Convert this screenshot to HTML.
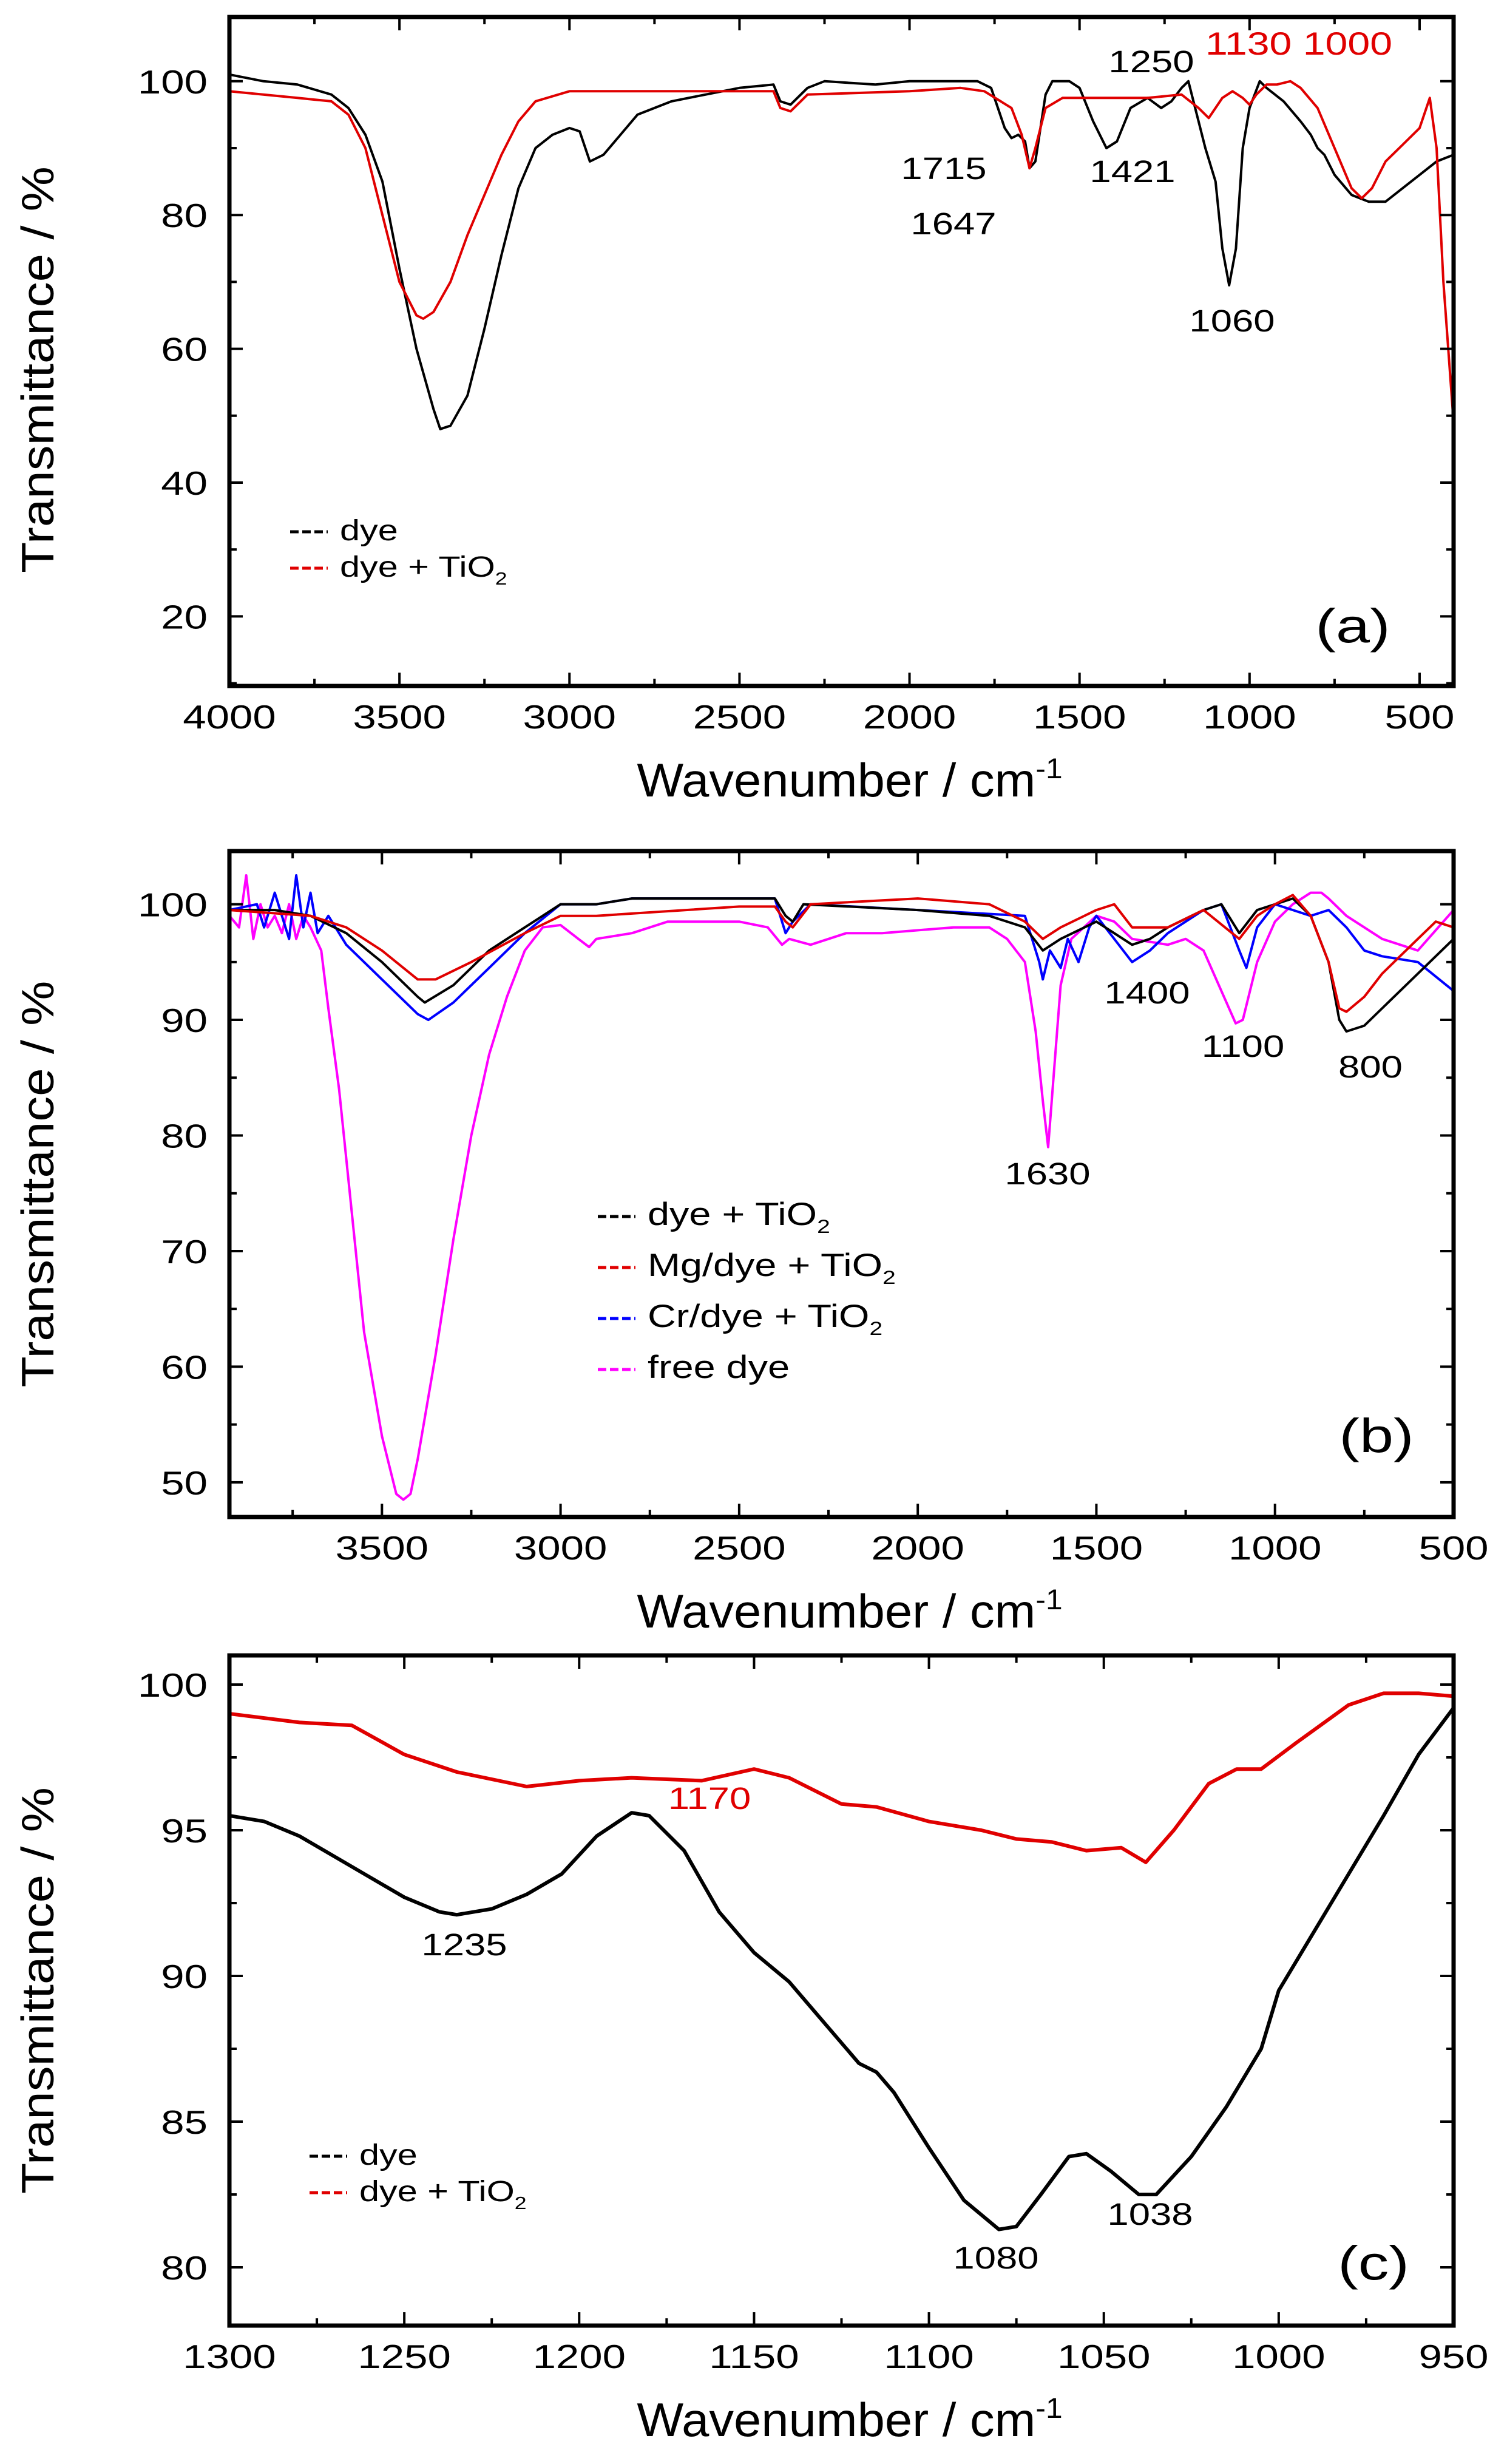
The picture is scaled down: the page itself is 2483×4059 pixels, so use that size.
<!DOCTYPE html>
<html><head><meta charset="utf-8">
<style>
html,body{margin:0;padding:0;background:#fff;}
svg{display:block;font-family:"Liberation Sans",Arial,sans-serif;}
</style></head>
<body>
<svg id="fig" width="2483" height="4059" viewBox="0 0 2483 4059" xmlns="http://www.w3.org/2000/svg"></svg>
<script>
// ---------- Panel (a) data ----------
const aDyeX = [4000,3900,3800,3700,3650,3600,3550,3500,3450,3400,3380,3350,3300,3250,3200,3150,3100,3050,3000,2970,2940,2900,2850,2800,2700,2600,2500,2400,2380,2350,2300,2250,2100,2000,1800,1760,1720,1700,1680,1660,1647,1630,1600,1580,1530,1500,1460,1421,1390,1350,1300,1260,1230,1200,1180,1160,1130,1100,1080,1060,1040,1020,1000,970,950,900,850,820,800,780,750,700,650,600,550,500,450,400];
const aDyeY = [101,100,99.5,98,96,92,85,72,60,51,48,48.5,53,63,74,84,90,92,93,92.5,88,89,92,95,97,98,99,99.5,97,96.5,99,100,99.5,100,100,99,93,91.5,92,91,87,88,98,100,100,99,94,90,91,96,97.5,96,97,99,100,96,90,85,75,69.5,75,90,96,100,99,97,94,92,90,89,86,83,82,82,84,86,88,89];
const aTiX = [4000,3800,3700,3650,3600,3550,3500,3450,3430,3400,3350,3300,3250,3200,3150,3100,3000,2800,2500,2400,2380,2350,2320,2300,2000,1850,1780,1700,1670,1647,1630,1600,1550,1400,1300,1200,1150,1120,1080,1050,1020,1000,980,950,920,880,850,800,750,700,670,640,600,550,500,470,450,430,400];
const aTiY = [98.5,97.5,97,95,90,80,70,65,64.5,65.5,70,77,83,89,94,97,98.5,98.5,98.5,98.5,96,95.5,97,98,98.5,99,98.5,96,92,87,90,96,97.5,97.5,97.5,98,96,94.5,97.5,98.5,97.5,96.5,98,99.5,99.5,100,99,96,90,84,82.5,84,88,90.5,93,97.5,90,70,49];
const aXTicks = [4000,3500,3000,2500,2000,1500,1000,500];
const aYTicks = [20,40,60,80,100];

// ---------- Panel (b) data ----------
const bTiX = [3927,3800,3700,3600,3500,3400,3380,3300,3200,3100,3000,2900,2800,2400,2370,2350,2320,2000,1800,1700,1650,1600,1500,1400,1350,1300,1200,1150,1100,1050,1000,950,900,850,820,800,750,700,600,500];
const bTiY = [99.5,99.5,99,97.5,95,92,91.5,93,96,98,100,100,100.5,100.5,99,98.5,100,99.5,99,98,96,97,98.5,96.5,97,98,99.5,100,97.5,99.5,100,100.5,99,95,90,89,89.5,91,94,97];
const bMgX = [3927,3700,3600,3500,3400,3350,3250,3100,3000,2900,2500,2400,2370,2350,2300,2000,1800,1700,1650,1600,1500,1450,1400,1300,1200,1100,1050,1000,950,900,850,820,800,750,700,600,550,500];
const bMgY = [99.5,99,98,96,93.5,93.5,95,97.5,99,99,99.8,99.8,98.5,98,100,100.5,100,98.5,97,98,99.5,100,98,98,99.5,97,99,100,100.8,99,95,91,90.7,92,94,97,98.5,98];
const bCrX = [3927,3850,3830,3800,3760,3740,3720,3700,3680,3650,3600,3500,3400,3370,3300,3200,3100,3000,2900,2800,2400,2370,2350,2300,2000,1700,1660,1650,1630,1600,1580,1550,1520,1500,1450,1400,1350,1300,1200,1150,1100,1080,1050,1000,950,900,850,800,750,700,600,500];
const bCrY = [99.5,100,98,101,97,102.5,98,101,97.5,99,96.5,93.5,90.5,90,91.5,94.5,97.5,100,100,100.5,100.5,97.5,98.5,100,99.5,99,95,93.5,96,94.5,97,95,98,99,97,95,96,97.5,99.5,100,96,94.5,98,100,99.5,99,99.5,98,96,95.5,95,92.5];
const bFreeX = [3927,3900,3880,3860,3840,3820,3800,3780,3760,3740,3720,3700,3670,3650,3620,3600,3550,3500,3460,3440,3420,3400,3350,3300,3250,3200,3150,3100,3050,3000,2950,2920,2900,2800,2700,2500,2420,2380,2360,2300,2200,2100,1900,1800,1750,1700,1670,1650,1635,1620,1600,1570,1500,1450,1400,1300,1250,1200,1150,1110,1090,1050,1000,950,900,870,850,800,700,600,500];
const bFreeY = [99,98,102.5,97,100,98,99,97.5,100,97,99,98,96,91,84,78,63,54,49,48.5,49,52,61,71,80,87,92,96,98,98.2,97,96.3,97,97.5,98.5,98.5,98,96.5,97,96.5,97.5,97.5,98,98,97,95,89,83,79,85,93,97,99,98.5,97,96.5,97,96,92.5,89.7,90,95,98.5,100,101,101,100.5,99,97,96,99.5];
const bXTicks = [3500,3000,2500,2000,1500,1000,500];
const bYTicks = [50,60,70,80,90,100];

// ---------- Panel (c) data ----------
const cDyeX = [1300,1290,1280,1270,1260,1250,1240,1235,1225,1215,1205,1195,1185,1180,1170,1160,1150,1140,1130,1120,1115,1110,1100,1090,1080,1075,1068,1060,1055,1048,1040,1035,1025,1015,1005,1000,990,980,970,960,950];
const cDyeY = [95.5,95.3,94.8,94.1,93.4,92.7,92.2,92.1,92.3,92.8,93.5,94.8,95.6,95.5,94.3,92.2,90.8,89.8,88.4,87.0,86.7,86.0,84.1,82.3,81.3,81.4,82.5,83.8,83.9,83.3,82.5,82.5,83.8,85.5,87.5,89.5,91.5,93.5,95.5,97.6,99.2];
const cTiX = [1300,1280,1265,1250,1235,1215,1200,1185,1165,1150,1140,1125,1115,1100,1085,1075,1065,1055,1045,1038,1030,1020,1012,1005,995,980,970,960,950];
const cTiY = [99,98.7,98.6,97.6,97,96.5,96.7,96.8,96.7,97.1,96.8,95.9,95.8,95.3,95,94.7,94.6,94.3,94.4,93.9,95,96.6,97.1,97.1,98,99.3,99.7,99.7,99.6];
const cXTicks = [1300,1250,1200,1150,1100,1050,1000,950];
const cYTicks = [80,85,90,95,100];

const NS = "http://www.w3.org/2000/svg";
const svg = document.getElementById('fig');
function mk(tag, attrs, parent){
  const e = document.createElementNS(NS, tag);
  for (const k in attrs) e.setAttribute(k, attrs[k]);
  (parent||svg).appendChild(e);
  return e;
}
// text with horizontal/vertical stretch to mimic the wide reference font
function txt(parent, html, x, y, fs, anchor, sx, sy, fill, rot){
  const t = mk('text', {x: 0, y: 0, 'font-size': fs, 'text-anchor': anchor, fill: fill || '#000',
    transform: 'translate(' + x + ',' + y + ')' + (rot ? ' rotate(' + rot + ')' : '') + ' scale(' + sx + ',' + sy + ')'}, parent);
  t.innerHTML = html;
  return t;
}
const L = 378, R = 2395;
const SX = 1.38, SY = 1.1;

function panel(cfg){
  const g = mk('g', {});
  
  
  const sx = v => L + (cfg.x0 - v) / (cfg.x0 - cfg.x1) * (R - L);
  const sy = v => cfg.bottom - (v - cfg.y0) / (cfg.y1 - cfg.y0) * (cfg.bottom - cfg.top);
  const clipId = 'clip' + cfg.id;
  const cp = mk('clipPath', {id: clipId}, g);
  mk('rect', {x: L, y: cfg.top, width: R - L, height: cfg.bottom - cfg.top}, cp);

  cfg.series.forEach(s => {
    let d = '';
    s.x.forEach((xv, i) => { d += (i ? 'L' : 'M') + sx(xv).toFixed(1) + ',' + sy(s.y[i]).toFixed(1); });
    const p = mk('path', {d: d, fill: 'none', stroke: s.color, 'stroke-width': cfg.lw, 'stroke-linejoin': 'round', 'clip-path': 'url(#' + clipId + ')'}, g);
    
    
  });

  const tg = mk('g', {stroke: '#000', 'stroke-width': 4}, g);
  
  
  for (let v = cfg.xMinorStart; v >= cfg.x1 - 1e-6; v -= cfg.xMinor) {
    if (v > cfg.x0 + 1e-6) continue;
    const major = cfg.xTicks.indexOf(v) >= 0;
    const len = major ? 22 : 12, x = sx(v);
    mk('line', {x1: x, x2: x, y1: cfg.bottom, y2: cfg.bottom - len}, tg);
    mk('line', {x1: x, x2: x, y1: cfg.top, y2: cfg.top + len}, tg);
  }
  for (let v = cfg.yMinorStart; v <= cfg.y1; v += cfg.yMinor) {
    const major = cfg.yTicks.indexOf(v) >= 0;
    const len = major ? 22 : 12, y = sy(v);
    mk('line', {x1: L, x2: L + len, y1: y, y2: y}, tg);
    mk('line', {x1: R, x2: R - len, y1: y, y2: y}, tg);
  }
  cfg.xTicks.forEach(v => {
    const t = txt(g, String(v), sx(v), cfg.bottom + 70, 50, 'middle', SX, SY);
    
    
  });
  cfg.yTicks.forEach(v => {
    const t = txt(g, String(v), 342, sy(v) + 20, 50, 'end', SX, SY);
    
    
  });
  const fr = mk('rect', {x: L, y: cfg.top, width: R - L, height: cfg.bottom - cfg.top, fill: 'none', stroke: '#000', 'stroke-width': 7}, g);
  
  

  const xt = txt(g, 'Wavenumber / cm<tspan dy="-28" font-size="44">-1</tspan>', 1400, cfg.bottom + 182, 72, 'middle', 1.13, 1.08);
  
  
  const cy = (cfg.top + cfg.bottom) / 2 + cfg.ytOff;
  const yt = txt(g, 'Transmittance / %', 88, cy, 72, 'middle', 1.16, 1.05, '#000', -90);
  
  

  cfg.ann.forEach(a => {
    const t = txt(g, a[0], a[1], a[2], a[4] || 46, 'middle', SX, SY, a[3] || '#000');
    
    
  });
  const pl = txt(g, '(' + cfg.id + ')', cfg.letter[0], cfg.letter[1], 72, 'middle', 1.4, 1.1);
  
  

  const lg = mk('g', {}, g);
  
  
  cfg.legend.forEach((e, i) => {
    const y = cfg.legY + i * cfg.legDy;
    const ln = mk('line', {x1: cfg.legX, x2: cfg.legX + 62, y1: y - 14, y2: y - 14, stroke: e.color, 'stroke-width': 5, 'stroke-dasharray': '14,6'}, lg);
    
    
    const t = txt(lg, e.label, cfg.legX + 82, y, cfg.legFs, 'start', 1.35, 1.1);
    
    
  });
}

const TIO2 = 'TiO<tspan dy="12" font-size="0.6em">2</tspan>';

panel({id: 'a', x0: 4000, x1: 400, y0: 9.6, y1: 109.6, top: 28, bottom: 1130, lw: 4, ytOff: 30,
  xTicks: aXTicks, xMinorStart: 4000, xMinor: 250, yTicks: aYTicks, yMinorStart: 10, yMinor: 10,
  series: [{name: 'dye', x: aDyeX, y: aDyeY, color: '#000'}, {name: 'dye-tio2', x: aTiX, y: aTiY, color: '#e00000'}],
  ann: [['1715', 1555, 295], ['1647', 1571, 386], ['1421', 1866, 300], ['1250', 1897, 119], ['1130 1000', 2140, 90, '#e00000', 48], ['1060', 2030, 546]],
  letter: [2229, 1058],
  legend: [{color: '#000', label: 'dye'}, {color: '#e00000', label: 'dye + ' + TIO2}], legX: 478, legY: 890, legDy: 60, legFs: 44});

panel({id: 'b', x0: 3927, x1: 500, y0: 47, y1: 104.6, top: 1402, bottom: 2499, lw: 4, ytOff: 0,
  xTicks: bXTicks, xMinorStart: 3750, xMinor: 250, yTicks: bYTicks, yMinorStart: 50, yMinor: 5,
  series: [{name: 'free-dye', x: bFreeX, y: bFreeY, color: '#ff00ff'}, {name: 'cr-dye-tio2', x: bCrX, y: bCrY, color: '#0000ff'},
           {name: 'dye-tio2', x: bTiX, y: bTiY, color: '#000'}, {name: 'mg-dye-tio2', x: bMgX, y: bMgY, color: '#e00000'}],
  ann: [['1400', 1890, 1653], ['1100', 2048, 1741], ['800', 2258, 1775], ['1630', 1726, 1951]],
  letter: [2268, 2392],
  legend: [{color: '#000', label: 'dye + ' + TIO2}, {color: '#e00000', label: 'Mg/dye + ' + TIO2}, {color: '#0000ff', label: 'Cr/dye + ' + TIO2}, {color: '#ff00ff', label: 'free dye'}],
  legX: 985, legY: 2018, legDy: 84, legFs: 48});

panel({id: 'c', x0: 1300, x1: 950, y0: 78, y1: 101, top: 2727, bottom: 3831, lw: 6, ytOff: 0,
  xTicks: cXTicks, xMinorStart: 1300, xMinor: 25, yTicks: cYTicks, yMinorStart: 80, yMinor: 2.5,
  series: [{name: 'dye', x: cDyeX, y: cDyeY, color: '#000'}, {name: 'dye-tio2', x: cTiX, y: cTiY, color: '#e00000'}],
  ann: [['1235', 765, 3221], ['1170', 1169, 2980, '#e00000'], ['1080', 1641, 3737], ['1038', 1895, 3665]],
  letter: [2263, 3755],
  legend: [{color: '#000', label: 'dye'}, {color: '#e00000', label: 'dye + ' + TIO2}], legX: 510, legY: 3566, legDy: 60, legFs: 44});
</script>
</body></html>
